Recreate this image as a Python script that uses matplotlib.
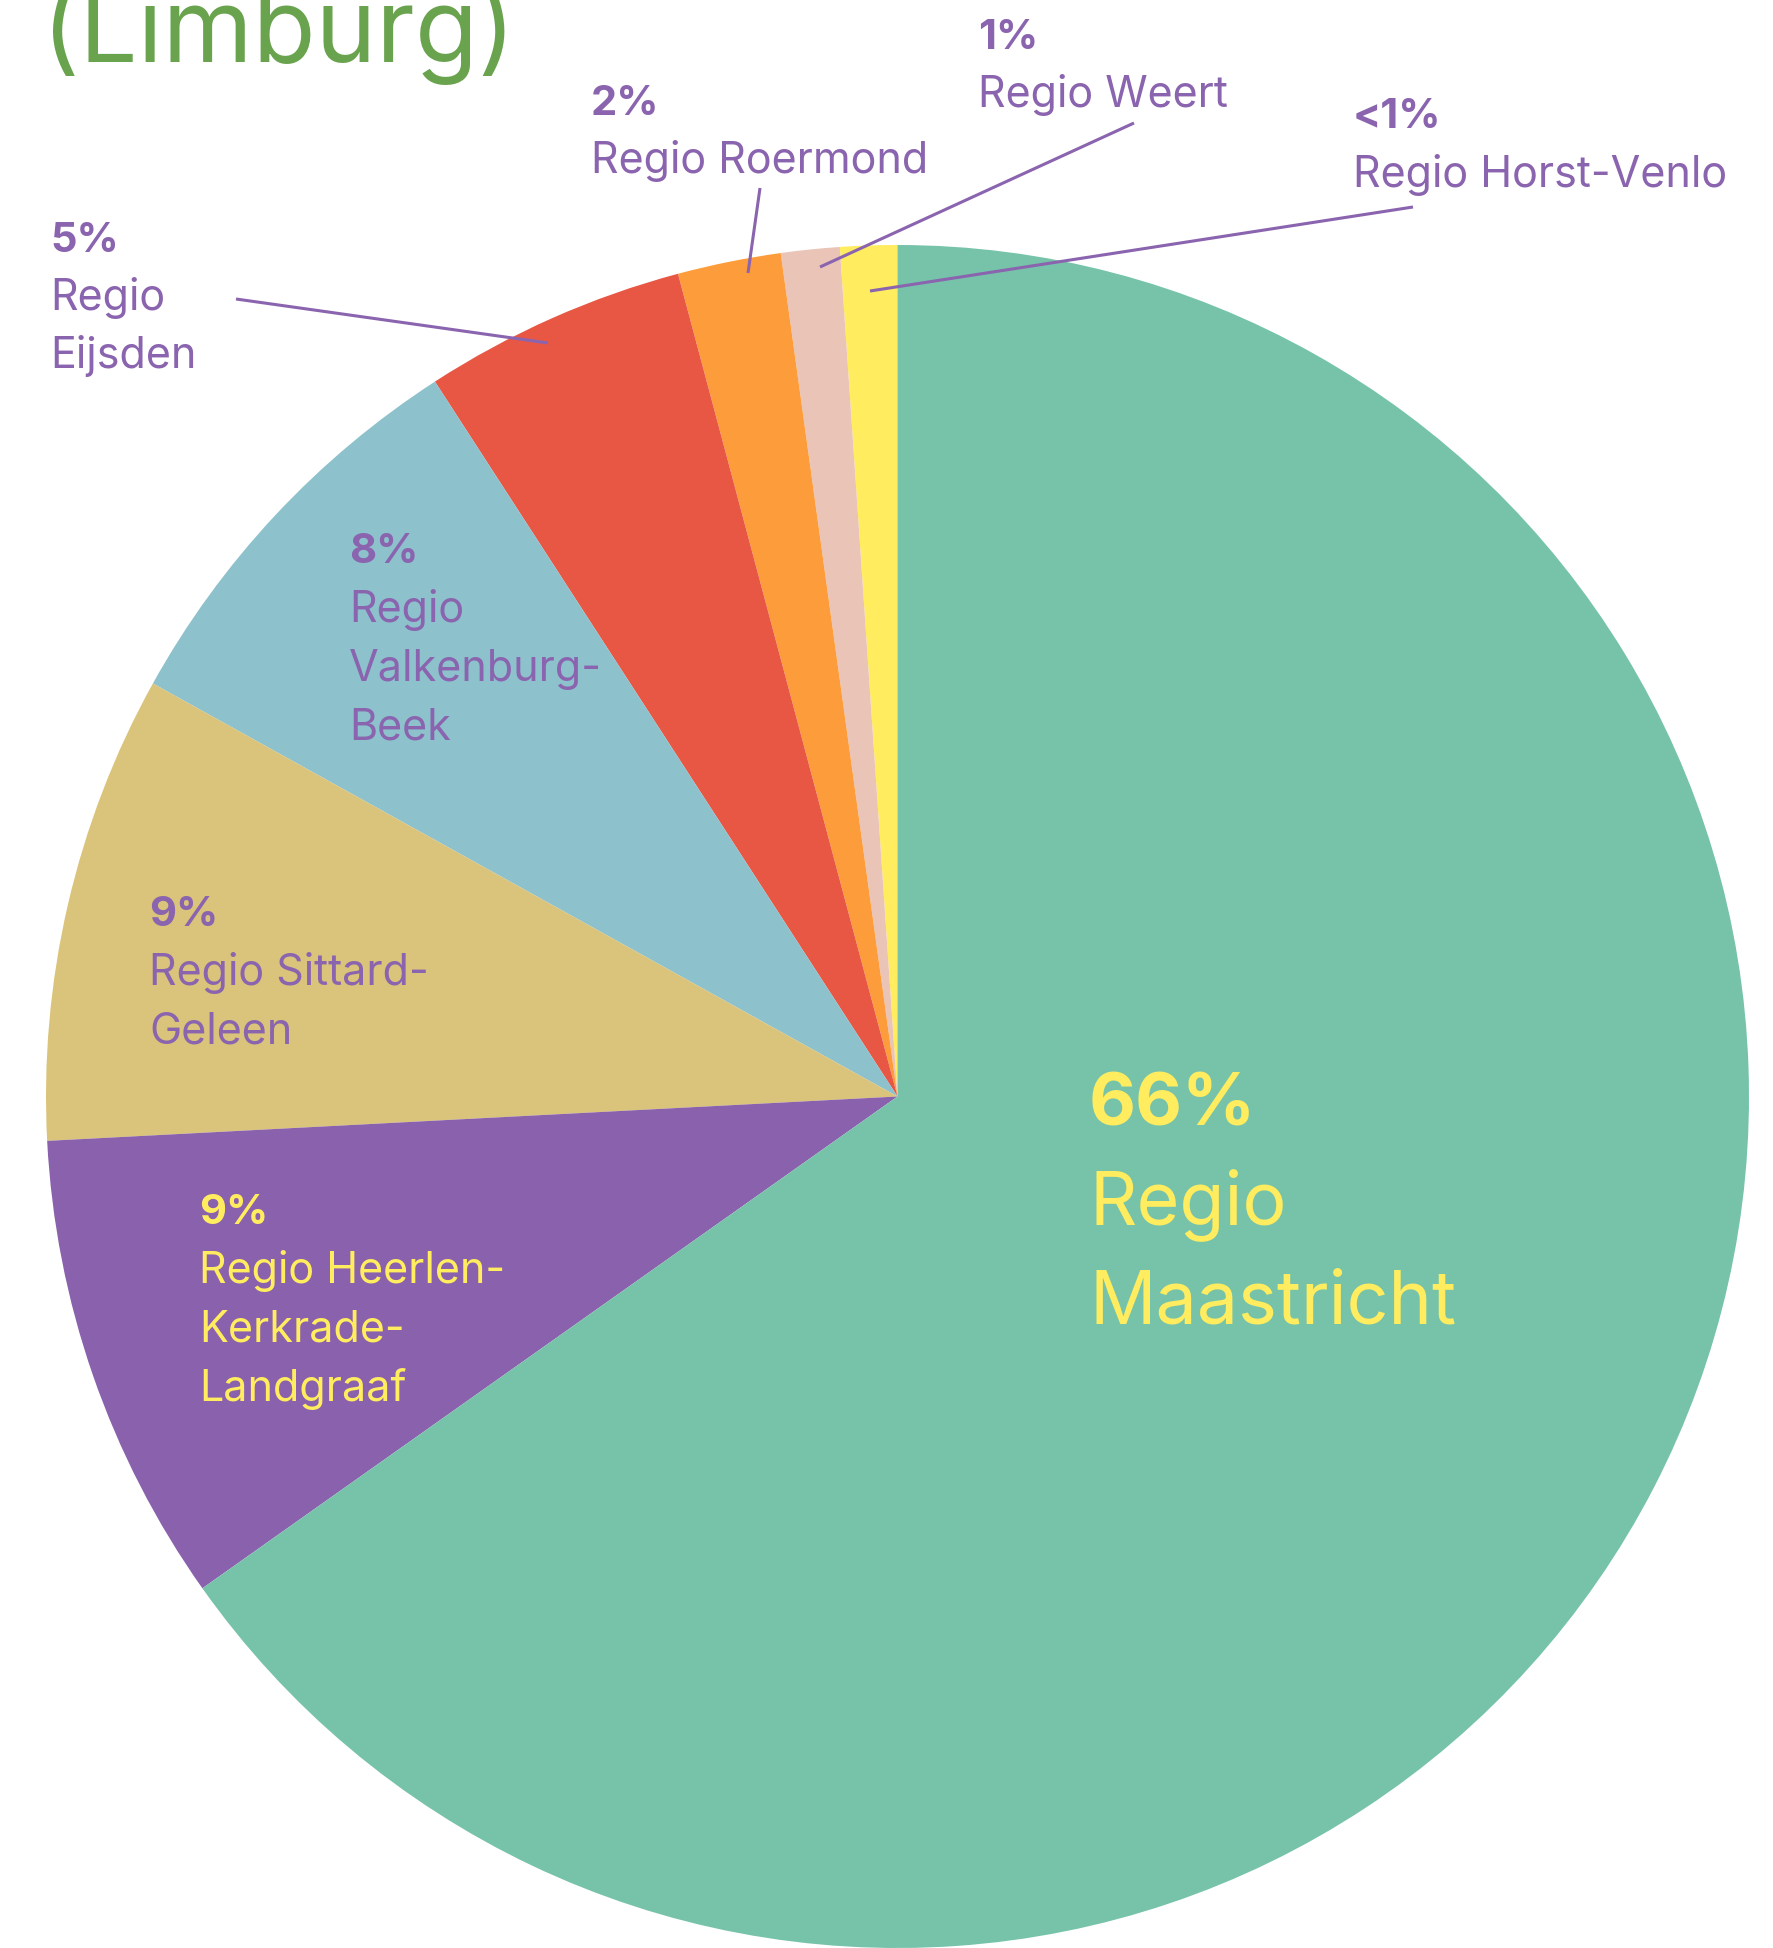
"""
Taartdiagram: verdeling per regio (Limburg).
"""

import matplotlib

matplotlib.use("Agg")
import matplotlib.pyplot as plt

plt.rcParams["font.family"] = ["Inter", "DejaVu Sans"]

# --------------------------------------------------------------------------
# Data (tegen de klok in, vanaf 12 uur)
# --------------------------------------------------------------------------
regios = ["Regio Horst-Venlo", "Regio Weert", "Regio Roermond",
          "Regio\nEijsden", "Regio\nValkenburg-\nBeek", "Regio Sittard-\nGeleen",
          "Regio Heerlen-\nKerkrade-\nLandgraaf", "Regio\nMaastricht"]
aandeel = [1.08, 1.11, 1.96, 4.99, 7.80, 8.89, 8.97, 65.20]
labels_pct = ["<1%", "1%", "2%", "5%", "8%", "9%", "9%", "66%"]
kleuren = ["#FFEC5F", "#EAC4B7", "#FD9C3A", "#E85744",
           "#8DC2CD", "#DAC37A", "#8961AC", "#76C3AA"]

PAARS = "#8A64AE"
GEEL = "#FFEC5F"
GROEN = "#6AA34E"

W, H = 1773, 1948


def y(py):
    """Pixel-y (van boven) naar data-y (van onder)."""
    return H - py


fig = plt.figure(figsize=(W / 100, H / 100), dpi=100)
ax = fig.add_axes([0, 0, 1, 1])
ax.set_xlim(0, W)
ax.set_ylim(0, H)
ax.set_aspect("equal")
ax.axis("off")

ax.pie(aandeel, colors=kleuren, startangle=90, counterclock=True,
       center=(897.5, y(1096.5)), radius=851.5,
       wedgeprops=dict(linewidth=0))
ax.set_xlim(0, W)
ax.set_ylim(0, H)

# titel (bovenkant valt buiten beeld, zoals in het origineel)
ax.text(42, y(62), "(Limburg)", fontsize=74, color=GROEN,
        va="baseline", ha="left")

# label posities: x, baseline van percentage, regelafstand
posities = [(1353, 128, 59), (978, 49, 58), (591, 115, 58), (50, 252, 58),
            (349, 563, 59), (149, 926, 59), (199, 1224, 59), (1089, 1125, 99)]
tekstkleur = [PAARS] * 6 + [GEEL, GEEL]

for i, (x0, b0, gap) in enumerate(posities):
    fs = 53 if i == 7 else 31
    ax.text(x0, y(b0), labels_pct[i], fontsize=fs - 1, fontweight="bold",
            color=tekstkleur[i], va="baseline", ha="left")
    for j, regel in enumerate(regios[i].split("\n")):
        ax.text(x0, y(b0 + gap * (j + 1)), regel, fontsize=fs,
                color=tekstkleur[i], va="baseline", ha="left")

# verbindingslijnen voor de kleine segmenten
lijnen = [((1413, 207), (870, 291)), ((1134, 123), (820, 267)),
          ((760, 188), (748, 273)), ((236, 299), (548, 343))]
for (xa, ya), (xb, yb) in lijnen:
    ax.plot([xa, xb], [y(ya), y(yb)], color=PAARS, linewidth=2.2,
            solid_capstyle="butt")

fig.savefig("out.png", dpi=100)
